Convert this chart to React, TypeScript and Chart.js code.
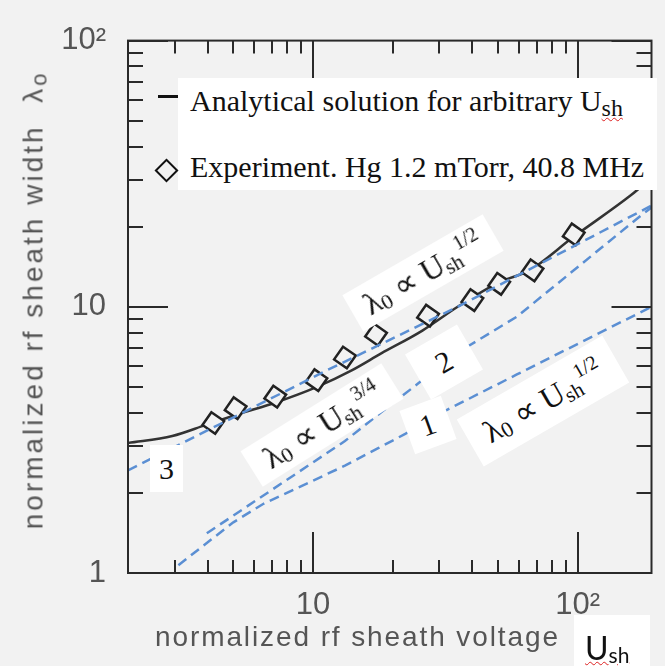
import React, { useEffect, useRef } from 'react';
import { Chart, registerables } from 'chart.js';

Chart.register(...registerables);

// ---- data ----
const curveX = [2.0, 2.94, 3.94, 5.21, 7.28, 10.3, 14.0, 18.1, 25.9, 35.2, 50.8, 65.7, 95.7, 160, 190];
const curveY = [3.08, 3.27, 3.6, 3.95, 4.38, 4.99, 5.77, 6.68, 8.14, 10.0, 12.4, 13.7, 18.2, 26.4, 30.5];

const expX = [4.2, 5.1, 7.2, 10.3, 13.2, 17.3, 27.2, 40, 50.5, 67.5, 96.6];
const expY = [3.66, 4.16, 4.6, 5.3, 6.45, 7.86, 9.26, 10.6, 12.2, 13.7, 18.7];

const line1X = [3.1, 5.0, 6.5, 13.2, 17.7, 22.3, 30.4, 58.9, 190];
const line1Y = [1.07, 1.55, 1.82, 2.53, 2.95, 3.33, 3.99, 5.57, 10.0];

const line2X = [3.97, 13.2, 17.7, 25, 37.3, 58.9, 175, 190];
const line2Y = [1.41, 3.13, 3.95, 5.16, 6.97, 9.18, 22.2, 23.6];

const line3X = [2.0, 11.4, 35.2, 100, 190];
const line3Y = [2.43, 5.8, 10.0, 17.2, 24.0];

const xTickValues = [10, 100];
const xTickLabels = ['10', '10²'];
const yTickValues = [1, 10, 100];
const yTickLabels = ['1', '10', '10²'];
const xMinorTicks = [3, 4, 5, 6, 7, 8, 9, 20, 30, 40, 50, 60, 70, 80, 90];
const yMinorTicks = [2, 3, 4, 5, 6, 7, 8, 9, 20, 30, 40, 50, 60, 70, 80, 90];

const BG = '#f2f2f2';
const BLUE = '#5b8fd3';
const INK = '#2a2a2a';

const pts = (xs: number[], ys: number[]) => xs.map((x, i) => ({ x, y: ys[i] }));

const frameTicks = {
  id: 'frameTicks',
  afterDraw(chart: any) {
    const { ctx, chartArea: a, scales } = chart;
    const xs = scales.x;
    const ys = scales.y;
    ctx.save();
    ctx.strokeStyle = INK;
    ctx.lineWidth = 2;
    ctx.strokeRect(a.left, a.top, a.right - a.left, a.bottom - a.top);
    ctx.beginPath();
    const xt = (v: number, len: number) => {
      const p = Math.round(xs.getPixelForValue(v));
      ctx.moveTo(p, a.bottom);
      ctx.lineTo(p, a.bottom - len);
      ctx.moveTo(p, a.top);
      ctx.lineTo(p, a.top + len);
    };
    const yt = (v: number, len: number) => {
      const p = Math.round(ys.getPixelForValue(v));
      ctx.moveTo(a.left, p);
      ctx.lineTo(a.left + len, p);
      ctx.moveTo(a.right, p);
      ctx.lineTo(a.right - len, p);
    };
    xTickValues.forEach((v) => xt(v, 41));
    xMinorTicks.forEach((v) => xt(v, 13));
    yTickValues.forEach((v) => yt(v, 40));
    yMinorTicks.forEach((v) => yt(v, 15));
    ctx.stroke();
    ctx.restore();
  },
};

const serif = '"Liberation Serif", "Times New Roman", serif';
const sans = '"Liberation Sans", Arial, sans-serif';

function RotBox(props: { cx: number; cy: number; w: number; h: number; angle: number; children?: any; fontSize?: number }) {
  const { cx, cy, w, h, angle, children, fontSize = 30 } = props;
  return (
    <div
      style={{
        position: 'absolute',
        left: cx - w / 2,
        top: cy - h / 2,
        width: w,
        height: h,
        background: '#fff',
        transform: `rotate(${angle}deg)`,
        display: 'flex',
        alignItems: 'center',
        justifyContent: 'center',
        fontFamily: serif,
        fontSize,
        lineHeight: 1,
        color: '#111',
        whiteSpace: 'nowrap',
      }}
    >
      {children}
    </div>
  );
}

function PowerLaw({ exp }: { exp: string }) {
  return (
    <span style={{ fontSize: 32 }}>
      λ<span style={{ fontSize: 22, verticalAlign: '-3px' }}>0</span>
      {' ∝ '}U<span style={{ fontSize: 21, verticalAlign: '-4px' }}>sh</span>
      <span style={{ fontSize: 20, verticalAlign: '13px' }}>{exp}</span>
    </span>
  );
}

export default function App() {
  const ref = useRef<HTMLCanvasElement | null>(null);

  useEffect(() => {
    if (!ref.current) return;
    const tickFont = { family: sans, size: 31 };
    const chart = new Chart(ref.current, {
      type: 'scatter',
      data: {
        datasets: [
          { data: pts(line3X, line3Y), showLine: true, borderColor: BLUE, borderDash: [10, 6], borderWidth: 2.5, pointRadius: 0, order: 0 },
          { data: pts(line2X, line2Y), showLine: true, borderColor: BLUE, borderDash: [10, 6], borderWidth: 2.5, pointRadius: 0, order: 0 },
          { data: pts(line1X, line1Y), showLine: true, borderColor: BLUE, borderDash: [10, 6], borderWidth: 2.5, pointRadius: 0, order: 0 },
          {
            data: pts(expX, expY),
            showLine: false,
            pointStyle: 'rect',
            rotation: 35,
            pointRadius: 11,
            borderColor: '#222',
            backgroundColor: BG,
            pointBorderWidth: 2.5,
            order: 1,
          },
          {
            data: pts(curveX, curveY),
            showLine: true,
            borderColor: '#333',
            borderWidth: 2.5,
            pointRadius: 0,
            cubicInterpolationMode: 'monotone',
            order: 2,
          },
        ],
      },
      options: {
        animation: false,
        responsive: false,
        devicePixelRatio: 1,
        layout: { padding: { top: 37, right: 7, left: 0, bottom: 0 } },
        plugins: { legend: { display: false }, tooltip: { enabled: false } },
        scales: {
          x: {
            type: 'logarithmic',
            min: 2,
            max: 190,
            grid: { display: false, drawTicks: false },
            border: { display: false },
            afterFit: (s: any) => { s.height = 93; },
            afterBuildTicks: (s: any) => { s.ticks = xTickValues.map((v) => ({ value: v })); },
            ticks: {
              autoSkip: false,
              maxRotation: 0,
              padding: 14,
              color: '#555',
              font: tickFont,
              callback: (v: any) => xTickLabels[xTickValues.indexOf(Number(v))] ?? '',
            },
          },
          y: {
            type: 'logarithmic',
            min: 1,
            max: 100,
            grid: { display: false, drawTicks: false },
            border: { display: false },
            afterFit: (s: any) => { s.width = 128; },
            afterBuildTicks: (s: any) => { s.ticks = yTickValues.map((v) => ({ value: v })); },
            ticks: {
              autoSkip: false,
              padding: 22,
              color: '#555',
              font: tickFont,
              callback: (v: any) => yTickLabels[yTickValues.indexOf(Number(v))] ?? '',
            },
          },
        },
      },
      plugins: [frameTicks],
    } as any);
    return () => chart.destroy();
  }, []);

  return (
    <div style={{ position: 'fixed', left: 0, top: 0, width: 665, height: 666, background: BG, overflow: 'hidden' }}>
      <canvas ref={ref} width={665} height={666} style={{ position: 'absolute', left: 0, top: 0, width: 665, height: 666 }} />

      {/* legend */}
      <div style={{ position: 'absolute', left: 178, top: 78, width: 479, height: 112, background: '#fff' }} />
      <div style={{ position: 'absolute', left: 158, top: 95, width: 20, height: 3, background: '#111' }} />
      <div style={{ position: 'absolute', left: 158, top: 162, width: 17, height: 17, border: '2px solid #111', boxSizing: 'border-box', transform: 'rotate(45deg)' }} />
      <div style={{ position: 'absolute', left: 190, top: 86, fontFamily: serif, fontSize: 30, lineHeight: 1, color: '#111', whiteSpace: 'nowrap' }}>
        Analytical solution for arbitrary U
        <span style={{ fontSize: 24, verticalAlign: '-5px', textDecoration: 'underline wavy #d22', textDecorationThickness: 1 }}>sh</span>
      </div>
      <div style={{ position: 'absolute', left: 190, top: 152, fontFamily: serif, fontSize: 30, lineHeight: 1, color: '#111', whiteSpace: 'nowrap' }}>
        Experiment. Hg 1.2 mTorr, 40.8 MHz
      </div>

      {/* in-plot labels */}
      <RotBox cx={423} cy={273} w={162} h={42} angle={-30}><PowerLaw exp="1/2" /></RotBox>
      <RotBox cx={322} cy={425} w={166} h={42} angle={-32}><PowerLaw exp="3/4" /></RotBox>
      <RotBox cx={543} cy={401} w={168} h={54} angle={-30}><PowerLaw exp="1/2" /></RotBox>
      <RotBox cx={444} cy={362} w={60} h={52} angle={-30}>2</RotBox>
      <RotBox cx={428} cy={425} w={44} h={46} angle={-20}>1</RotBox>
      <div style={{ position: 'absolute', left: 150, top: 445, width: 33, height: 47, background: '#fff', display: 'flex', alignItems: 'center', justifyContent: 'center', fontFamily: serif, fontSize: 30, color: '#111' }}>3</div>

      {/* axis titles */}
      <div style={{ position: 'absolute', left: 155, top: 623, fontFamily: sans, fontSize: 28, letterSpacing: '1.9px', lineHeight: 1, color: '#555', whiteSpace: 'nowrap' }}>
        normalized rf sheath voltage
      </div>
      <div style={{ position: 'absolute', left: 574, top: 615, width: 76, height: 51, background: '#fff' }} />
      <div style={{ position: 'absolute', left: 585, top: 632, fontFamily: 'Lato, "Open Sans", sans-serif', fontSize: 32, lineHeight: 1, color: '#111', whiteSpace: 'nowrap', textDecoration: 'underline wavy #d22', textDecorationThickness: 1 }}>
        U<span style={{ fontSize: 21, verticalAlign: '-3px' }}>sh</span>
      </div>
      <div
        style={{
          position: 'absolute',
          left: 35,
          top: 300,
          transform: 'translate(-50%, -50%) rotate(-90deg)',
          fontFamily: sans,
          fontSize: 28,
          letterSpacing: '3px',
          lineHeight: 1,
          color: '#555',
          whiteSpace: 'nowrap',
        }}
      >
        normalized rf sheath width&nbsp;&nbsp;λ<span style={{ fontSize: 22, verticalAlign: '-4px' }}>o</span>
      </div>
    </div>
  );
}
